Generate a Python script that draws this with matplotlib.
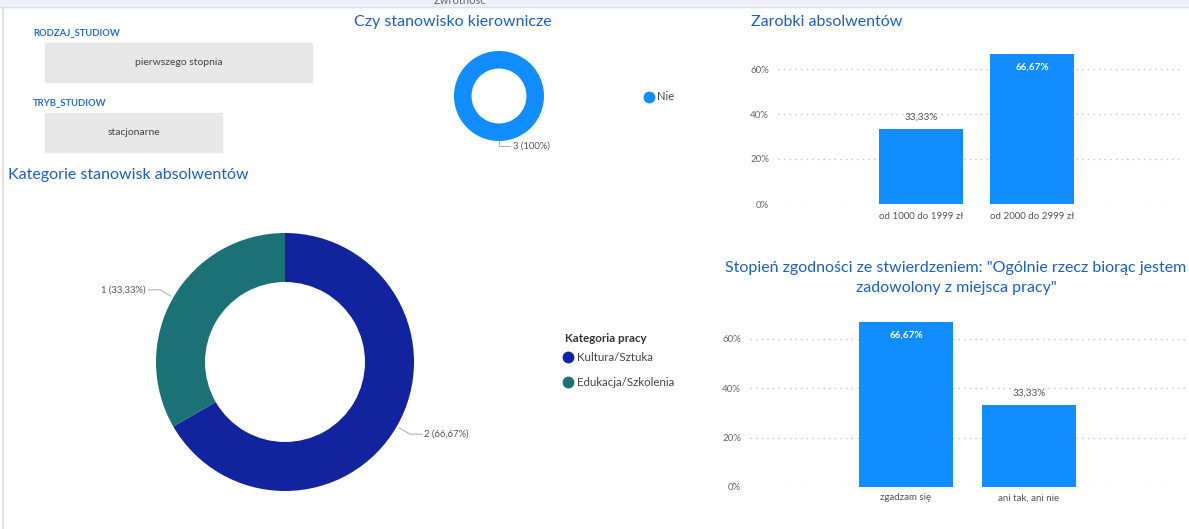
import numpy as np
import matplotlib
matplotlib.use("Agg")
import matplotlib.pyplot as plt
from matplotlib.lines import Line2D
from matplotlib.patches import Rectangle

# --- dane ---
filtry_nazwy = ["RODZAJ_STUDIOW", "TRYB_STUDIOW"]
filtry_wartosci = ["pierwszego stopnia", "stacjonarne"]

kierownicze_kat = ["Nie"]
kierownicze_n = [3]

kategorie = ["Kultura/Sztuka", "Edukacja/Szkolenia"]
kategorie_n = [2, 1]

zarobki_kat = ["od 1000 do 1999 zł", "od 2000 do 2999 zł"]
zarobki_pct = [33.33, 66.67]

zgodnosc_kat = ["zgadzam się", "ani tak, ani nie"]
zgodnosc_pct = [66.67, 33.33]

y_ticks = [0, 20, 40, 60]

W, H = 1189, 529
TITLE = "#1c5fc0"
BLUE = "#118dff"
plt.rcParams["font.family"] = ["Lato", "DejaVu Sans"]

fig = plt.figure(figsize=(W / 100, H / 100), dpi=100)


def px_axes(x0, y0, x1, y1):
    return fig.add_axes([x0 / W, 1 - y1 / H, (x1 - x0) / W, (y1 - y0) / H])


def fmt_pct(p):
    s = f"{p:.2f}".rstrip("0").rstrip(".")
    return s.replace(".", ",") + "%"


bg = fig.add_axes([0, 0, 1, 1])
bg.set_xlim(0, W)
bg.set_ylim(H, 0)
bg.axis("off")

# pasek u gory
bg.add_patch(Rectangle((0, 0), W, 7, color="#eef2f8"))
bg.plot([0, W], [7, 7], color="#dbe2ec", lw=1)
bg.text(460, 4, "Zwrotność", ha="center", va="baseline", fontsize=8,
        color="#666666", clip_on=True)
bg.plot([2.5, 2.5], [8, H], color="#e2e2e2", lw=1.5)

# filtry
for nazwa, wart, y, x1 in zip(filtry_nazwy, filtry_wartosci, [33, 103], [312, 222]):
    bg.text(33, y, nazwa, color="#2b6cc4", fontsize=6.8, fontweight="bold", va="center")
    bg.add_patch(Rectangle((45, y + 10), x1 - 45, 39, color="#e8e8e8"))
    bg.text((45 + x1) / 2, y + 29.5, wart, ha="center", va="center",
            fontsize=7.5, color="#444444")

# tytuly
bg.text(453, 22, "Czy stanowisko kierownicze", ha="center", va="center",
        fontsize=11.5, color=TITLE)
bg.text(8, 175, "Kategorie stanowisk absolwentów", ha="left", va="center",
        fontsize=11.5, color=TITLE)
bg.text(751, 22, "Zarobki absolwentów", ha="left", va="center",
        fontsize=11.5, color=TITLE)
bg.text(956, 278, 'Stopień zgodności ze stwierdzeniem: "Ogólnie rzecz biorąc jestem\n'
        'zadowolony z miejsca pracy"', ha="center", va="center",
        fontsize=11.5, color=TITLE, linespacing=1.5)


def donut_labels(ax, wedges, values, r0, r1, hlen, gap):
    total = sum(values)
    for w, v in zip(wedges, values):
        ang = np.deg2rad((w.theta1 + w.theta2) / 2)
        dx, dy = np.cos(ang), np.sin(ang)
        side = 1 if dx > -0.01 else -1
        x1, y1 = r1 * dx, r1 * dy
        x2 = x1 + side * hlen
        ax.plot([r0 * dx, x1, x2], [r0 * dy, y1, y1], color="#b5b5b5",
                lw=0.8, clip_on=False)
        ax.text(x2 + side * gap, y1, f"{v} ({fmt_pct(100 * v / total)})",
                ha="left" if side > 0 else "right", va="center",
                fontsize=6.8, color="#555555")


# maly donut
ax1 = px_axes(454, 51, 544, 141)
w1, _ = ax1.pie(kierownicze_n, colors=[BLUE], startangle=90, counterclock=False,
                radius=1, wedgeprops=dict(width=0.39))
ax1.set_xlim(-1, 1)
ax1.set_ylim(-1, 1)
ax1.set_aspect("equal")
donut_labels(ax1, w1, kierownicze_n, 1.0, 1.11, 0.245, 0.07)
fig.legend(handles=[Line2D([], [], marker="o", ls="", color=BLUE, markersize=7.5)],
           labels=kierownicze_kat, loc="center left",
           bbox_to_anchor=(644 / W, 1 - 97 / H), frameon=False, fontsize=8,
           handletextpad=0.3, borderaxespad=0, borderpad=0, handlelength=0.9,
           labelcolor="#444444")

# duzy donut
kat_kolory = ["#12239e", "#1b7176"]
ax2 = px_axes(156, 233, 414, 491)
w2, _ = ax2.pie(kategorie_n, colors=kat_kolory, startangle=90, counterclock=False,
                radius=1, wedgeprops=dict(width=0.38))
ax2.set_xlim(-1, 1)
ax2.set_ylim(-1, 1)
ax2.set_aspect("equal")
donut_labels(ax2, w2, kategorie_n, 1.02, 1.12, 0.09, 0.02)
bg.text(565, 338, "Kategoria pracy", ha="left", va="center", fontsize=8.3,
        fontweight="bold", color="#333333")
fig.legend(handles=[Line2D([], [], marker="o", ls="", color=c, markersize=7.5)
                    for c in kat_kolory],
           labels=kategorie, loc="upper left",
           bbox_to_anchor=(563 / W, 1 - 352 / H), frameon=False, fontsize=8.3,
           handletextpad=0.3, borderaxespad=0, borderpad=0, handlelength=0.9,
           labelspacing=1.2, labelcolor="#444444")


def bar_panel(box, xlim, cats, vals, cat_pad):
    ax = px_axes(*box)
    x = np.arange(len(cats))
    bars = ax.bar(x, vals, width=0.757, color=BLUE, zorder=2)
    ax.set_ylim(0, 70)
    ax.set_xlim(*xlim)
    ax.set_yticks(y_ticks, [f"{t}%" for t in y_ticks])
    ax.set_xticks(x, cats)
    ax.yaxis.grid(True, linestyle=(0, (1, 3.5)), color="#bdbdbd", lw=0.9, zorder=0)
    for s in ax.spines.values():
        s.set_visible(False)
    ax.tick_params(axis="y", length=0, labelsize=7, colors="#666666", pad=6.5)
    ax.tick_params(axis="x", length=0, labelsize=7, colors="#555555", pad=cat_pad)
    ax.patch.set_alpha(0)
    for b, v in zip(bars, vals):
        inside = v > 50
        ax.annotate(fmt_pct(v), (b.get_x() + b.get_width() / 2, v),
                    xytext=(0, -9.5 if inside else 8.5), textcoords="offset points",
                    ha="center", va="center", fontsize=7.2,
                    fontweight="bold" if inside else "normal",
                    color="white" if inside else "#555555")
    return ax


bar_panel((778, 46.5, 1180, 204), (-1.288, 2.333), zarobki_kat, zarobki_pct, 6)
bar_panel((750, 314, 1185, 487), (-1.268, 2.268), zgodnosc_kat, zgodnosc_pct, 4.5)

fig.savefig("out.png", dpi=100)
